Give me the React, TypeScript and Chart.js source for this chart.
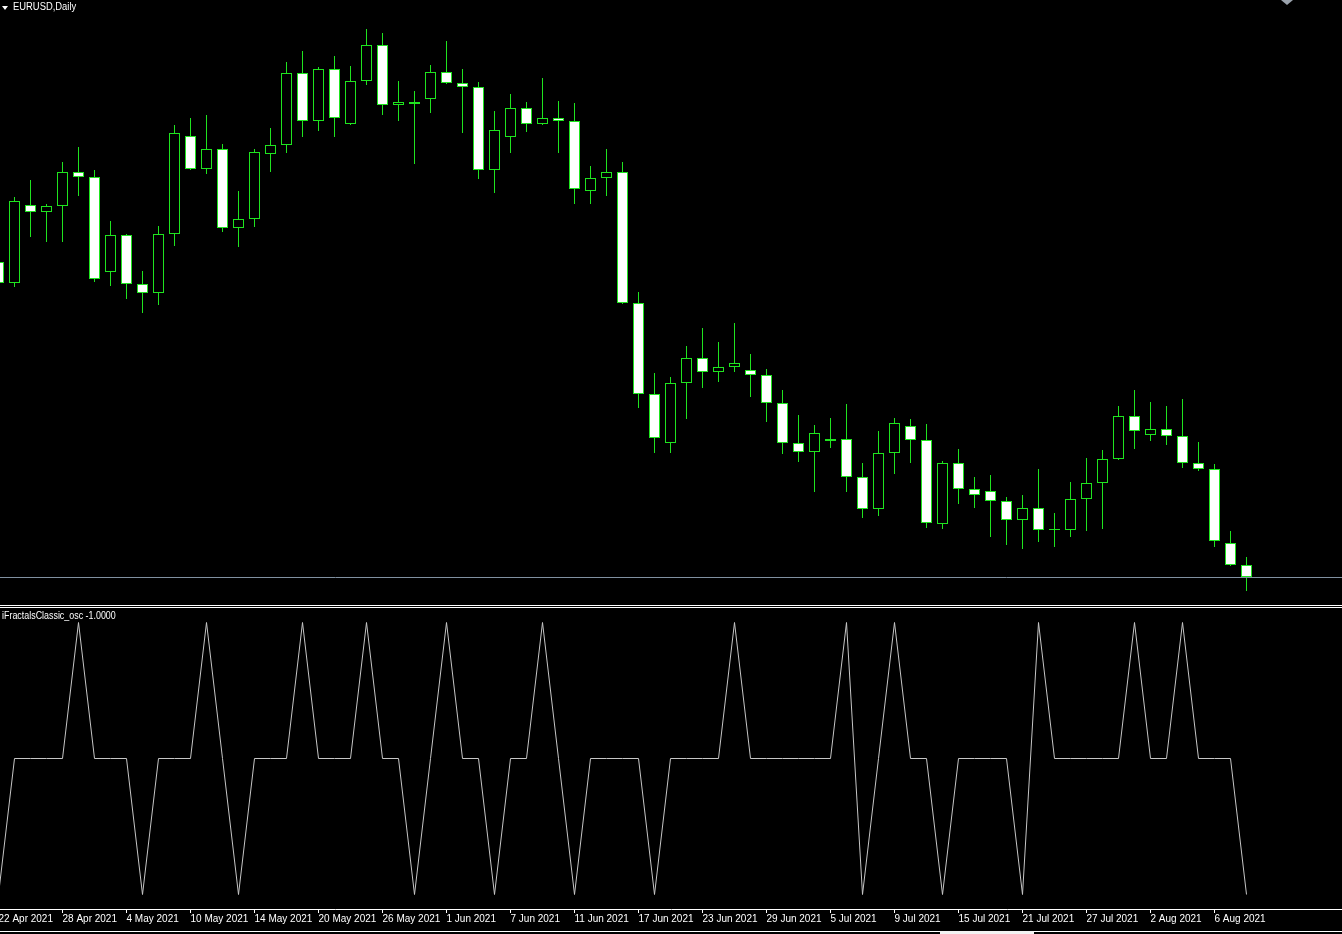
import React, { useEffect, useRef } from "react";
import { Chart, registerables } from "chart.js";

Chart.register(...registerables);

// ---------------- data ----------------
const SYMBOL_TITLE = "EURUSD,Daily";
const OSC_TITLE = "iFractalsClassic_osc -1.0000";

const DATES = [
  "22 Apr 2021", "23 Apr 2021", "26 Apr 2021", "27 Apr 2021", "28 Apr 2021", "29 Apr 2021", "30 Apr 2021",
  "3 May 2021", "4 May 2021", "5 May 2021", "6 May 2021", "7 May 2021", "10 May 2021", "11 May 2021",
  "12 May 2021", "13 May 2021", "14 May 2021", "17 May 2021", "18 May 2021", "19 May 2021", "20 May 2021",
  "21 May 2021", "24 May 2021", "25 May 2021", "26 May 2021", "27 May 2021", "28 May 2021", "31 May 2021",
  "1 Jun 2021", "2 Jun 2021", "3 Jun 2021", "4 Jun 2021", "7 Jun 2021", "8 Jun 2021", "9 Jun 2021",
  "10 Jun 2021", "11 Jun 2021", "14 Jun 2021", "15 Jun 2021", "16 Jun 2021", "17 Jun 2021", "18 Jun 2021",
  "21 Jun 2021", "22 Jun 2021", "23 Jun 2021", "24 Jun 2021", "25 Jun 2021", "28 Jun 2021", "29 Jun 2021",
  "30 Jun 2021", "1 Jul 2021", "2 Jul 2021", "5 Jul 2021", "6 Jul 2021", "7 Jul 2021", "8 Jul 2021",
  "9 Jul 2021", "12 Jul 2021", "13 Jul 2021", "14 Jul 2021", "15 Jul 2021", "16 Jul 2021", "19 Jul 2021",
  "20 Jul 2021", "21 Jul 2021", "22 Jul 2021", "23 Jul 2021", "26 Jul 2021", "27 Jul 2021", "28 Jul 2021",
  "29 Jul 2021", "30 Jul 2021", "2 Aug 2021", "3 Aug 2021", "4 Aug 2021", "5 Aug 2021", "6 Aug 2021",
  "9 Aug 2021", "10 Aug 2021",
];

const OPEN = [
  1.2032, 1.2011, 1.2089, 1.2082, 1.2088, 1.2122, 1.2117, 1.2022, 1.2059, 1.2010,
  1.2001, 1.2060, 1.2158, 1.2125, 1.2145, 1.2066, 1.2075, 1.2140, 1.2149, 1.2221,
  1.2173, 1.2225, 1.2170, 1.2213, 1.2249, 1.2189, 1.2192, 1.2195, 1.2222, 1.2211,
  1.2207, 1.2124, 1.2157, 1.2186, 1.2170, 1.2176, 1.2173, 1.2103, 1.2116, 1.2122,
  1.1991, 1.1900, 1.1851, 1.1911, 1.1936, 1.1922, 1.1927, 1.1924, 1.1919, 1.1891,
  1.1851, 1.1842, 1.1853, 1.1855, 1.1817, 1.1785, 1.1841, 1.1868, 1.1854, 1.1770,
  1.1831, 1.1805, 1.1803, 1.1793, 1.1774, 1.1786, 1.1764, 1.1764, 1.1795, 1.1811,
  1.1835, 1.1878, 1.1859, 1.1865, 1.1858, 1.1831, 1.1825, 1.1751, 1.1729,
];

const HIGH = [
  1.2039, 1.2097, 1.2114, 1.2090, 1.2132, 1.2147, 1.2124, 1.2073, 1.2060, 1.2023,
  1.2068, 1.2169, 1.2176, 1.2179, 1.2150, 1.2103, 1.2145, 1.2166, 1.2232, 1.2243,
  1.2227, 1.2238, 1.2228, 1.2265, 1.2261, 1.2213, 1.2203, 1.2229, 1.2253, 1.2225,
  1.2212, 1.2183, 1.2200, 1.2192, 1.2216, 1.2193, 1.2191, 1.2128, 1.2145, 1.2132,
  1.2002, 1.1921, 1.1917, 1.1948, 1.1966, 1.1952, 1.1971, 1.1940, 1.1925, 1.1904,
  1.1879, 1.1869, 1.1876, 1.1890, 1.1831, 1.1863, 1.1876, 1.1875, 1.1870, 1.1833,
  1.1845, 1.1817, 1.1819, 1.1797, 1.1799, 1.1825, 1.1781, 1.1812, 1.1836, 1.1844,
  1.1888, 1.1904, 1.1892, 1.1888, 1.1895, 1.1852, 1.1830, 1.1763, 1.1737,
];

const LOW = [
  1.2008, 1.2007, 1.2057, 1.2052, 1.2052, 1.2098, 1.2012, 1.2008, 1.1995, 1.1981,
  1.1989, 1.2048, 1.2124, 1.2120, 1.2062, 1.2047, 1.2067, 1.2122, 1.2141, 1.2157,
  1.2163, 1.2157, 1.2169, 1.2209, 1.2179, 1.2173, 1.2130, 1.2181, 1.2210, 1.2161,
  1.2115, 1.2101, 1.2141, 1.2162, 1.2169, 1.2141, 1.2090, 1.2090, 1.2098, 1.1990,
  1.1886, 1.1841, 1.1841, 1.1875, 1.1906, 1.1912, 1.1922, 1.1897, 1.1872, 1.1840,
  1.1832, 1.1802, 1.1846, 1.1802, 1.1776, 1.1778, 1.1820, 1.1831, 1.1766, 1.1765,
  1.1790, 1.1786, 1.1757, 1.1749, 1.1745, 1.1752, 1.1747, 1.1757, 1.1763, 1.1765,
  1.1834, 1.1845, 1.1853, 1.1849, 1.1826, 1.1823, 1.1747, 1.1728, 1.1703,
];

const CLOSE = [
  1.2011, 1.2093, 1.2082, 1.2088, 1.2122, 1.2117, 1.2015, 1.2059, 1.2010, 1.2001,
  1.2060, 1.2161, 1.2125, 1.2145, 1.2066, 1.2075, 1.2142, 1.2149, 1.2221, 1.2173,
  1.2225, 1.2176, 1.2213, 1.2249, 1.2189, 1.2192, 1.2190, 1.2222, 1.2211, 1.2207,
  1.2124, 1.2164, 1.2186, 1.2170, 1.2176, 1.2173, 1.2105, 1.2116, 1.2122, 1.1991,
  1.1900, 1.1856, 1.1911, 1.1936, 1.1922, 1.1927, 1.1931, 1.1919, 1.1891, 1.1851,
  1.1842, 1.1861, 1.1855, 1.1817, 1.1785, 1.1841, 1.1871, 1.1854, 1.1771, 1.1831,
  1.1805, 1.1799, 1.1793, 1.1774, 1.1786, 1.1764, 1.1764, 1.1795, 1.1811, 1.1835,
  1.1878, 1.1863, 1.1865, 1.1858, 1.1831, 1.1825, 1.1753, 1.1729, 1.1717,
];

const OSC = [
  -1, 0, 0, 0, 0, 1, 0, 0, 0, -1,
  0, 0, 0, 1, 0, -1, 0, 0, 0, 1,
  0, 0, 0, 1, 0, 0, -1, 0, 1, 0,
  0, -1, 0, 0, 1, 0, -1, 0, 0, 0,
  0, -1, 0, 0, 0, 0, 1, 0, 0, 0,
  0, 0, 0, 1, -1, 0, 1, 0, 0, -1,
  0, 0, 0, 0, -1, 1, 0, 0, 0, 0,
  0, 1, 0, 0, 1, 0, 0, 0, -1,
];

const TICK_STEP = 4;

// ---------------- layout / style ----------------
const FONT = "'Liberation Sans', Arial, sans-serif";
const GREEN = "#1fe41f";
const W = 1342;
const MAIN_H = 605;
const OSC_TOP = 608;
const OSC_H = 326;
const AXIS_H = 25;
const BAR_PX = 16;
const X_MIN = 0.09375;
const X_MAX = X_MIN + W / BAR_PX;
const PRICE_MAX = 1.2294;
const PRICE_MIN = PRICE_MAX - MAIN_H / 10000;
const OSC_RANGE = 150.5 / 136;

const bidLinePlugin = {
  id: "bidLine",
  afterDatasetsDraw(chart: any) {
    const ys = chart.scales.y;
    const y = Math.round(ys.getPixelForValue(CLOSE[CLOSE.length - 1])) + 0.5;
    const ctx = chart.ctx;
    ctx.save();
    ctx.strokeStyle = "#8090a0";
    ctx.lineWidth = 1;
    ctx.beginPath();
    ctx.moveTo(chart.chartArea.left, y);
    ctx.lineTo(chart.chartArea.right, y);
    ctx.stroke();
    ctx.restore();
  },
};

export default function App() {
  const mainRef = useRef<HTMLCanvasElement | null>(null);
  const oscRef = useRef<HTMLCanvasElement | null>(null);

  useEffect(() => {
    document.body.style.margin = "0";
    document.body.style.background = "#000";

    const main = new Chart(mainRef.current as HTMLCanvasElement, {
      type: "bar",
      data: {
        datasets: [
          {
            label: "body",
            data: OPEN.map((o, i) => ({ x: i, y: [o, CLOSE[i]] })) as any,
            backgroundColor: OPEN.map((o, i) => (CLOSE[i] < o ? "#ffffff" : "#000000")),
            borderColor: GREEN,
            borderWidth: 1,
            borderSkipped: false,
            grouped: false,
            maxBarThickness: 11,
            minBarLength: 1,
            inflateAmount: 0,
            order: 0,
          } as any,
          {
            label: "wick",
            data: LOW.map((l, i) => ({ x: i, y: [l, HIGH[i]] })) as any,
            backgroundColor: GREEN,
            borderWidth: 0,
            grouped: false,
            maxBarThickness: 1,
            inflateAmount: 0,
            order: 1,
          } as any,
        ],
      },
      options: {
        responsive: false,
        maintainAspectRatio: false,
        animation: false,
        events: [],
        layout: { padding: 0 },
        plugins: {
          legend: { display: false },
          tooltip: { enabled: false },
          title: { display: false },
        },
        scales: {
          x: { type: "linear", min: X_MIN, max: X_MAX, bounds: "data", offset: false, display: false },
          y: { type: "linear", min: PRICE_MIN, max: PRICE_MAX, bounds: "data", display: false },
        },
      } as any,
      plugins: [bidLinePlugin],
    });

    const tickIdx = DATES.map((_, i) => i).filter((i) => i % TICK_STEP === 0);

    const osc = new Chart(oscRef.current as HTMLCanvasElement, {
      type: "line",
      data: {
        datasets: [
          {
            label: "osc",
            data: OSC.map((v, i) => ({ x: i, y: v })),
            borderColor: "#c6c6c6",
            borderWidth: 1,
            pointRadius: 0,
            tension: 0,
            fill: false,
          },
        ],
      },
      options: {
        responsive: false,
        maintainAspectRatio: false,
        animation: false,
        events: [],
        layout: { padding: 0 },
        plugins: {
          legend: { display: false },
          tooltip: { enabled: false },
          title: { display: false },
        },
        scales: {
          x: {
            type: "linear",
            position: "bottom",
            min: X_MIN,
            max: X_MAX,
            bounds: "data",
            offset: false,
            afterBuildTicks: (s: any) => {
              s.ticks = tickIdx.map((v) => ({ value: v }));
            },
            afterFit: (s: any) => {
              s.height = AXIS_H;
              s.paddingLeft = 0;
              s.paddingRight = 0;
            },
            ticks: {
              autoSkip: false,
              maxRotation: 0,
              minRotation: 0,
              align: "start",
              padding: 0,
              color: "#ffffff",
              font: { family: FONT, size: 10 },
              callback: (v: any) => DATES[Math.round(Number(v))] ?? "",
            },
            grid: {
              drawOnChartArea: false,
              drawTicks: true,
              tickLength: 4,
              color: "#ffffff",
              lineWidth: 1,
            },
            border: { display: true, color: "#ffffff", width: 1 },
          },
          y: { type: "linear", min: -OSC_RANGE, max: OSC_RANGE, bounds: "data", display: false },
        },
      } as any,
    });

    return () => {
      main.destroy();
      osc.destroy();
    };
  }, []);

  const text: React.CSSProperties = {
    position: "absolute",
    fontFamily: FONT,
    fontSize: 10,
    lineHeight: "12px",
    color: "#ffffff",
    whiteSpace: "nowrap",
    transformOrigin: "0 50%",
  };

  return (
    <div
      style={{
        position: "absolute",
        left: 0,
        top: 0,
        width: W,
        height: 934,
        background: "#000",
        overflow: "hidden",
      }}
    >
      <canvas
        ref={mainRef}
        width={W}
        height={MAIN_H}
        style={{ position: "absolute", left: 0, top: 0, width: W, height: MAIN_H }}
      />
      <canvas
        ref={oscRef}
        width={W}
        height={OSC_H}
        style={{ position: "absolute", left: 0, top: OSC_TOP, width: W, height: OSC_H }}
      />

      {/* title */}
      <div
        style={{
          position: "absolute",
          left: 2,
          top: 6,
          width: 0,
          height: 0,
          borderLeft: "3px solid transparent",
          borderRight: "3px solid transparent",
          borderTop: "4px solid #ffffff",
        }}
      />
      <div style={{ ...text, left: 13, top: 1, transform: "scaleX(0.94)" }}>{SYMBOL_TITLE}</div>

      {/* shift marker */}
      <div
        style={{
          position: "absolute",
          left: 1281,
          top: 0,
          width: 0,
          height: 0,
          borderLeft: "6px solid transparent",
          borderRight: "6px solid transparent",
          borderTop: "5px solid #9aa2ac",
        }}
      />

      {/* panel separators */}
      <div style={{ position: "absolute", left: 0, top: 605, width: W, height: 1, background: "#ffffff" }} />
      <div style={{ position: "absolute", left: 0, top: 607, width: W, height: 1, background: "#ffffff" }} />

      <div style={{ ...text, left: 2, top: 610, transform: "scaleX(0.89)" }}>{OSC_TITLE}</div>

      {/* bottom border + tab */}
      <div style={{ position: "absolute", left: 0, top: 931, width: W, height: 1, background: "#ffffff" }} />
      <div style={{ position: "absolute", left: 940, top: 931, width: 94, height: 3, background: "#f2f2f2" }} />
    </div>
  );
}
